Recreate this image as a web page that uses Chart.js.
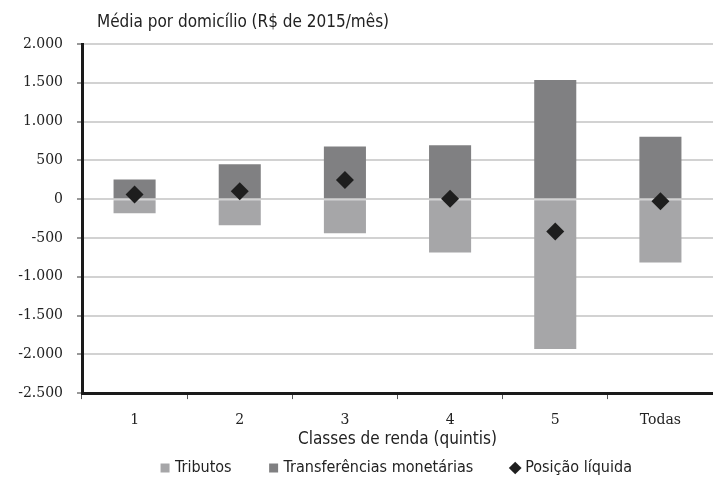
<!DOCTYPE html>
<html lang="pt-BR">
<head>
<meta charset="utf-8">
<title>Média por domicílio</title>
<script src="https://cdn.jsdelivr.net/npm/chart.js@4.4.1/dist/chart.umd.min.js"></script>
<style>
  html, body { margin: 0; padding: 0; background: #fff; }
</style>
</head>
<body>
<canvas id="chart" width="713" height="499"></canvas>
<script>
// valores (R$ de 2015/mês)
const classes = ['1', '2', '3', '4', '5', 'Todas'];
const tributos = [-183, -337, -440, -688, -1933, -815];
const transferencias = [253, 449, 679, 696, 1537, 805];
const posicaoLiquida = [60, 103, 247, 4, -416, -27];
const yTicks = [-2500, -2000, -1500, -1000, -500, 0, 500, 1000, 1500, 2000];

const SANS = "'Liberation Sans Narrow', 'DejaVu Sans Condensed', Roboto, sans-serif";
const SERIF = "'DejaVu Serif', 'Liberation Serif', serif";

function formatBR(v) {
  const s = Math.abs(v).toString().replace(/\B(?=(\d{3})+(?!\d))/g, '.');
  return (v < 0 ? '-' : '') + s;
}

// título no canto superior esquerdo
const topTitle = {
  id: 'topTitle',
  afterDraw(chart) {
    const ctx = chart.ctx;
    ctx.save();
    ctx.font = `17px ${SANS}`;
    ctx.fillStyle = '#222';
    ctx.textBaseline = 'middle';
    ctx.fillText('Média por domicílio (R$ de 2015/mês)', chart.chartArea.left + 15, 23);
    ctx.restore();
  }
};

const legendOrder = (a, b) => a.datasetIndex - b.datasetIndex;

new Chart(document.getElementById('chart'), {
  type: 'bar',
  data: {
    labels: classes,
    datasets: [
      {
        label: 'Tributos',
        data: tributos,
        backgroundColor: '#a6a6a8',
        borderWidth: 0,
        order: 1
      },
      {
        label: 'Transferências monetárias',
        data: transferencias,
        backgroundColor: '#808082',
        borderWidth: 0,
        order: 1
      },
      {
        type: 'line',
        label: 'Posição líquida',
        data: posicaoLiquida,
        showLine: false,
        pointStyle: 'rectRot',
        pointRadius: 9,
        pointBackgroundColor: '#1e1e1e',
        pointBorderWidth: 0,
        backgroundColor: '#1e1e1e',
        borderColor: '#1e1e1e',
        stack: 'net',
        order: 0
      }
    ]
  },
  options: {
    responsive: false,
    animation: false,
    layout: { autoPadding: false, padding: { top: 44, right: 0, bottom: 13, left: 0 } },
    datasets: {
      bar: { categoryPercentage: 1, barPercentage: 0.4 }
    },
    scales: {
      x: {
        stacked: true,
        afterFit: s => { s.paddingLeft = 0; s.paddingRight = 0; s.height = 35; },
        grid: { drawOnChartArea: false, tickLength: 6, tickColor: '#555', lineWidth: 1 },
        border: { color: '#1a1a1a', width: 3 },
        ticks: { color: '#222', padding: 13, font: { family: SERIF, size: 14 } }
      },
      y: {
        stacked: true,
        min: -2500,
        max: 2000,
        afterBuildTicks: s => { s.ticks = yTicks.map(v => ({ value: v })); },
        afterFit: s => { s.width = 82; },
        grid: { color: '#d2d2d2', lineWidth: 2, tickLength: 5, tickColor: '#999' },
        border: { color: '#1a1a1a', width: 3 },
        ticks: {
          color: '#222',
          padding: 14,
          font: { family: SERIF, size: 14 },
          callback: v => formatBR(v)
        }
      }
    },
    plugins: {
      tooltip: { enabled: false },
      legend: {
        position: 'bottom',
        fullSize: false,
        // o título do eixo x fica como título da legenda
        title: {
          display: true,
          position: 'center',
          text: 'Classes de renda (quintis)',
          color: '#222',
          font: { family: SANS, size: 17 },
          padding: { top: 2.5, bottom: -31 }
        },
        labels: {
          color: '#222',
          font: { family: SANS, size: 16 },
          padding: 40,
          usePointStyle: true,
          boxWidth: 4,
          boxHeight: 9,
          sort: legendOrder,
          generateLabels(chart) {
            const items = Chart.defaults.plugins.legend.labels.generateLabels(chart);
            return items.map(it => Object.assign(it, {
              pointStyle: it.datasetIndex === 2 ? 'rectRot' : 'rect',
              lineWidth: 0,
              strokeStyle: 'transparent'
            }));
          }
        }
      }
    }
  },
  plugins: [topTitle]
});
</script>
</body>
</html>
